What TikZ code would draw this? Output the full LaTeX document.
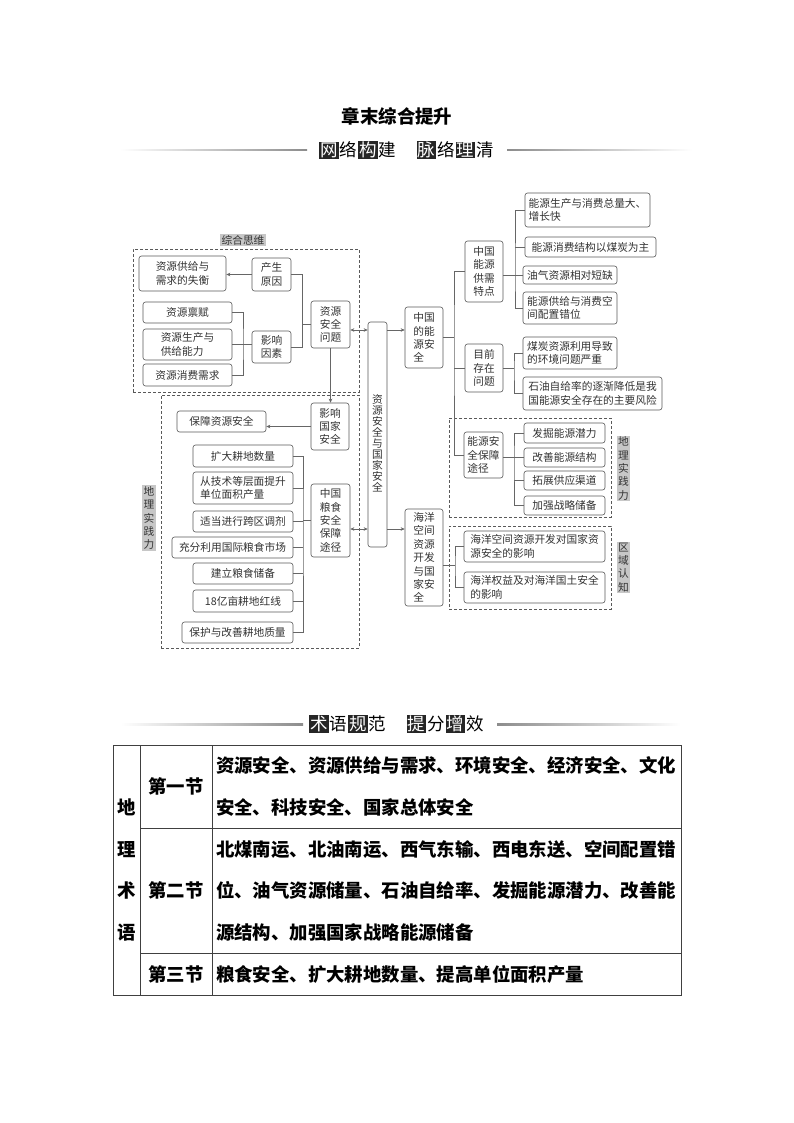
\documentclass[tikz,border=0pt]{standalone}
\usepackage{fontspec}
\setmainfont{Noto Sans CJK SC}
\usetikzlibrary{calc,arrows.meta}

\newcommand{\blkchar}[1]{{\setlength{\fboxsep}{1pt}\colorbox{black!85}{\textcolor{white}{#1}}}}
\newcommand{\plainchar}[1]{\kern1pt #1\kern1pt}

\tikzset{
    box/.style 2 args={draw=black!65, rounded corners=2.5pt, line width=0.6pt, inner sep=0pt, align=left,
        minimum width=#1, minimum height=#2, font=\fontsize{10.7}{13.4}\selectfont, text=black!80},
    dashbox/.style 2 args={draw=black!65, densely dashed, line width=0.5pt, minimum width=#1, minimum height=#2},
    tag/.style={fill=black!22, inner sep=1.2pt, align=center, font=\fontsize{10.7}{13.4}\selectfont, text=black!80},
    link/.style={draw=black!60, line width=0.6pt, >={Stealth[length=4pt,width=3.5pt]}},
    cell/.style 2 args={draw=black!75, line width=0.6pt, inner sep=0pt, minimum width=#1, minimum height=#2,
        align=center, font=\fontsize{18.4}{41.5}\selectfont\bfseries},
    para/.style 2 args={cell={#1}{#2}, align=left, text width=#1-8pt},
}

\begin{document}
\begin{tikzpicture}[x=1pt, y=-1pt]
    \fill[white] (0,0) rectangle (794,1123);
    \useasboundingbox (0,0) rectangle (794,1123);

    % heading
    \node[font=\fontsize{18.4}{22}\selectfont\bfseries] (title) at (397,116) {章末综合提升};
    \node[font=\fontsize{17.5}{20}\selectfont, inner sep=0pt] (head1) at (407,150) {\blkchar{网}\plainchar{络}\blkchar{构}\plainchar{建}\hspace{1.1em}\blkchar{脉}\plainchar{络}\blkchar{理}\plainchar{清}};
    \shade[left color=white, right color=black!45] (120,149.5) rectangle (307,151);
    \shade[left color=black!45, right color=white] (507,149.5) rectangle (692,151);

    % dashed groups
    \node[dashbox={226}{143}] (group1) at (246,320.5) {};
    \node[dashbox={198}{253}] (group2) at (260,521.5) {};
    \node[dashbox={162}{99}] (group3) at (530,467.5) {};
    \node[dashbox={162}{83}] (group4) at (530,567.5) {};
    \node[tag] (tag1) at (243,240) {综合思维};
    \node[tag] (tag2) at (149,518) {地\\理\\实\\践\\力};
    \node[tag] (tag3) at (623.5,468.5) {地\\理\\实\\践\\力};
    \node[tag] (tag4) at (623.5,567.5) {区\\域\\认\\知};

    % left part
    \node[box={87}{35}] (shiheng) at (182.5,273.5) {资源供给与\\需求的失衡};
    \node[box={39}{33}] (yuanyin) at (271.5,274.5) {产生\\原因};
    \node[box={89}{21}] (binfu) at (187.5,312.5) {资源禀赋};
    \node[box={89}{31}] (gongji) at (187.5,344.5) {资源生产与\\供给能力};
    \node[box={89}{22}] (xuqiu) at (187.5,375) {资源消费需求};
    \node[box={39}{32}] (yinsu) at (271.5,347) {影响\\因素};
    \node[box={39}{47}] (wenti) at (330.5,324.5) {资源\\安全\\问题};
    \node[box={38}{47}] (guojia) at (330,426.5) {影响\\国家\\安全};
    \node[box={89}{21}] (baozhang) at (221.5,421.5) {保障资源安全};
    \node[box={100}{22}] (gengdi) at (243,456) {扩大耕地数量};
    \node[box={100}{32}] (jishu) at (243,488) {从技术等层面提升\\单位面积产量};
    \node[box={100}{21}] (tiaoji) at (243,521.5) {适当进行跨区调剂};
    \node[box={121}{21}] (shichang) at (232.5,547.5) {充分利用国际粮食市场};
    \node[box={100}{21}] (chubei) at (243,573.5) {建立粮食储备};
    \node[box={100}{22}] (hongxian) at (243,601) {18亿亩耕地红线};
    \node[box={111}{21}] (zhiliang) at (237.5,632.5) {保护与改善耕地质量};
    \node[box={39}{73}] (liangshi) at (330.5,520.5) {中国\\粮食\\安全\\保障\\途径};

    % centre
    \node[box={19}{225}] (rail) at (377.5,434.5) {};
    \node[inner sep=0pt, align=center, font=\fontsize{10.7}{11}\selectfont, text=black!80] (railtext) at (377.5,443) {资\\源\\安\\全\\与\\国\\家\\安\\全};

    % right part
    \node[box={38}{61}] (nengyuan) at (424,337.5) {中国\\的能\\源安\\全};
    \node[box={38}{97}] (haiyang) at (424,557.5) {海洋\\空间\\资源\\开发\\与国\\家安\\全};
    \node[box={38}{61}] (tedian) at (484,271.5) {中国\\能源\\供需\\特点};
    \node[box={38}{48}] (cunzai) at (484,368) {目前\\存在\\问题};
    \node[box={39}{46}] (tujing) at (483.5,455) {能源安\\全保障\\途径};
    \node[box={125}{34}] (zongliang) at (587.5,210) {能源生产与消费总量大、\\增长快};
    \node[box={131}{20}] (jiegou) at (590.5,247) {能源消费结构以煤炭为主};
    \node[box={94}{18}] (youqi) at (570,275) {油气资源相对短缺};
    \node[box={94}{32}] (cuowei) at (570,308) {能源供给与消费空\\间配置错位};
    \node[box={94}{32}] (meitan) at (570,353) {煤炭资源利用导致\\的环境问题严重};
    \node[box={139}{33}] (shiyou) at (592.5,393.5) {石油自给率的逐渐降低是我\\国能源安全存在的主要风险};
    \node[box={81}{20}] (faju) at (564.5,433) {发掘能源潜力};
    \node[box={81}{19}] (gaishan) at (564.5,457.5) {改善能源结构};
    \node[box={81}{19}] (tuozhan) at (564.5,480.5) {拓展供应渠道};
    \node[box={81}{19}] (jiaqiang) at (564.5,505.5) {加强战略储备};
    \node[box={141}{31}] (kaifa) at (534.5,546.5) {海洋空间资源开发对国家资\\源安全的影响};
    \node[box={141}{31}] (quanyi) at (534.5,587.5) {海洋权益及对海洋国土安全\\的影响};

    % junctions
    \coordinate (jA) at (302,324.5);
    \coordinate (jB) at (243,344.5);
    \coordinate (jC) at (303,520.5);
    \coordinate (jD) at (454,337.5);
    \coordinate (jE) at (515,275);
    \coordinate (jF) at (514,368);
    \coordinate (jG) at (514,457.5);
    \coordinate (jH) at (455,565);
    \coordinate (armA) at (0,330);
    \coordinate (armB) at (0,529);

    \draw[link, ->] (yuanyin.west) -- (shiheng.east |- yuanyin.west);
    \draw[link] (yuanyin.east) -| (jA);
    \draw[link] (yinsu.east) -| (jA);
    \draw[link] (jA) -- (wenti.west);
    \draw[link] (binfu.east) -| (jB) |- (xuqiu.east);
    \draw[link] (gongji.east) -- (jB) -- (yinsu.west |- jB);
    \draw[link, ->] (wenti.south) -- (guojia.north -| wenti.south);
    \draw[link, ->] (guojia.west) -- (baozhang.east |- guojia.west);
    \draw[link] (gengdi.east) -| (jC) |- (zhiliang.east);
    \draw[link] (jishu.east) -- (jishu.east -| jC);
    \draw[link] (tiaoji.east) -- (tiaoji.east -| jC);
    \draw[link] (shichang.east) -- (shichang.east -| jC);
    \draw[link] (chubei.east) -- (chubei.east -| jC);
    \draw[link] (hongxian.east) -- (hongxian.east -| jC);
    \draw[link] (jC) -- (liangshi.west);
    \draw[link, <->] (wenti.east |- armA) -- (rail.west |- armA);
    \draw[link, <->] (liangshi.east |- armB) -- (rail.west |- armB);
    \draw[link, ->] (rail.east |- armA) -- (nengyuan.west |- armA);
    \draw[link, ->] (rail.east |- armB) -- (haiyang.west |- armB);
    \draw[link] (nengyuan.east) -- (jD);
    \draw[link] (tedian.west) -| (jD) |- (tujing.west);
    \draw[link] (cunzai.west) -- (cunzai.west -| jD);
    \draw[link] (zongliang.west) -| (jE) |- (cuowei.west);
    \draw[link] (jiegou.west) -- (jiegou.west -| jE);
    \draw[link] (tedian.east |- youqi.west) -- (youqi.west);
    \draw[link] (meitan.west) -| (jF) |- (shiyou.west);
    \draw[link] (cunzai.east) -- (jF);
    \draw[link] (faju.west) -| (jG) |- (jiaqiang.west);
    \draw[link] (tujing.east |- gaishan.west) -- (gaishan.west);
    \draw[link] (tuozhan.west) -- (tuozhan.west -| jG);
    \draw[link] (kaifa.west) -| (jH) |- (quanyi.west);
    \draw[link] (haiyang.east |- jH) -- (jH);

    % second heading
    \node[font=\fontsize{17.5}{20}\selectfont, inner sep=0pt] (head2) at (397,724) {\blkchar{术}\plainchar{语}\blkchar{规}\plainchar{范}\hspace{1.1em}\blkchar{提}\plainchar{分}\blkchar{增}\plainchar{效}};
    \shade[left color=white, right color=black!45] (121,723.5) rectangle (303,725);
    \shade[left color=black!45, right color=white] (497,723.5) rectangle (680,725);

    % table
    \node[cell={27}{250}] (term) at (126.5,870) {地\\理\\术\\语};
    \node[cell={72}{83}] (sec1) at (176,786.5) {第一节};
    \node[cell={72}{125}] (sec2) at (176,890.5) {第二节};
    \node[cell={72}{42}] (sec3) at (176,974) {第三节};
    \node[para={469}{83}] (text1) at (446.5,786.5) {资源安全、资源供给与需求、环境安全、经济安全、文化\\安全、科技安全、国家总体安全};
    \node[para={469}{125}] (text2) at (446.5,890.5) {北煤南运、北油南运、西气东输、西电东送、空间配置错\\位、油气资源储量、石油自给率、发掘能源潜力、改善能\\源结构、加强国家战略能源储备};
    \node[para={469}{42}] (text3) at (446.5,974) {粮食安全、扩大耕地数量、提高单位面积产量};
\end{tikzpicture}
\end{document}
